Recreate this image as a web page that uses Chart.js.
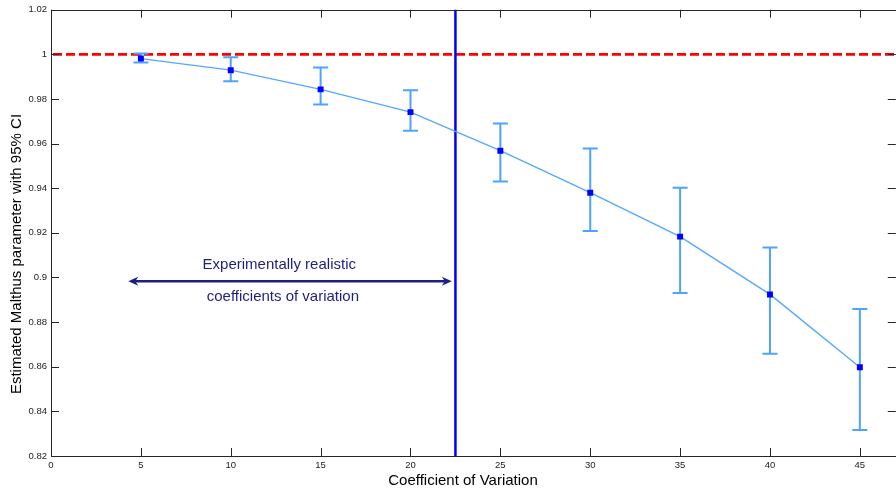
<!DOCTYPE html>
<html><head><meta charset="utf-8">
<script src="https://cdn.jsdelivr.net/npm/chart.js@4/dist/chart.umd.min.js"></script>
<style>
html,body{margin:0;padding:0;background:#fff;overflow:hidden;width:896px;height:492px}
#wrap{position:absolute;left:0;top:0;width:900px;height:492px}
</style></head>
<body><div id="wrap"><canvas id="c"></canvas></div>
<script>
// ---- data ----
const cvValues = [5, 10, 15, 20, 25, 30, 35, 40, 45];
const estimate = [0.9981, 0.9929, 0.9843, 0.9741, 0.9568, 0.9380, 0.9183, 0.8924, 0.8598];
const ciLow    = [0.9963, 0.9879, 0.9775, 0.9657, 0.9430, 0.9208, 0.8931, 0.8658, 0.8316];
const ciHigh   = [1.0004, 0.9987, 0.9941, 0.9839, 0.9690, 0.9578, 0.9402, 0.9134, 0.8859];
const xTicks = [0, 5, 10, 15, 20, 25, 30, 35, 40, 45];
const yTicks = [0.82, 0.84, 0.86, 0.88, 0.9, 0.92, 0.94, 0.96, 0.98, 1, 1.02];
const referenceLevel = [1];
const realisticLimit = [22.5];
const arrowSpan = [4.3, 22.3];
const arrowLevel = [0.8983];
const annotationLines = ["Experimentally realistic", "coefficients of variation"];
const xTitle = "Coefficient of Variation";
const yTitle = "Estimated Malthus parameter with 95% CI";

const FONT = "Arial, 'Liberation Sans', Helvetica, sans-serif";
const navy = '#1f1f80';

const overlay = {
  id: 'overlay',
  beforeDatasetsDraw(chart) {
    const {ctx, chartArea: a, scales: {x, y}} = chart;
    ctx.save();
    // red dashed reference line
    ctx.strokeStyle = '#ff0000'; ctx.lineWidth = 2.6; ctx.setLineDash([9, 4]);
    const yr = y.getPixelForValue(referenceLevel[0]);
    ctx.beginPath(); ctx.moveTo(a.left + 2, yr); ctx.lineTo(a.right, yr); ctx.stroke();
    ctx.setLineDash([]);
    // vertical limit
    const xv = x.getPixelForValue(realisticLimit[0]);
    ctx.strokeStyle = '#0000ff'; ctx.lineWidth = 2.5;
    ctx.beginPath(); ctx.moveTo(xv, a.top); ctx.lineTo(xv, a.bottom); ctx.stroke();
    // error bars
    ctx.strokeStyle = '#4da3ff'; ctx.lineWidth = 2;
    cvValues.forEach((v, i) => {
      const px = x.getPixelForValue(v);
      const lo = y.getPixelForValue(ciLow[i]);
      const hi = y.getPixelForValue(ciHigh[i]);
      ctx.beginPath();
      ctx.moveTo(px, lo); ctx.lineTo(px, hi);
      ctx.moveTo(px - 7.5, lo); ctx.lineTo(px + 7.5, lo);
      ctx.moveTo(px - 7.5, hi); ctx.lineTo(px + 7.5, hi);
      ctx.stroke();
    });
    // arrow
    const ax1 = x.getPixelForValue(arrowSpan[0]);
    const ax2 = x.getPixelForValue(arrowSpan[1]);
    const ay = y.getPixelForValue(arrowLevel[0]);
    ctx.strokeStyle = navy; ctx.fillStyle = navy; ctx.lineWidth = 2.5;
    ctx.beginPath(); ctx.moveTo(ax1 + 4, ay); ctx.lineTo(ax2 - 4, ay); ctx.stroke();
    const head = (tip, dir) => {
      ctx.beginPath();
      ctx.moveTo(tip, ay);
      ctx.lineTo(tip - dir * 10, ay - 4.5);
      ctx.lineTo(tip - dir * 7, ay);
      ctx.lineTo(tip - dir * 10, ay + 4.5);
      ctx.closePath(); ctx.fill();
    };
    head(ax1, -1); head(ax2, 1);
    // annotation text
    ctx.font = '15px ' + FONT; ctx.textAlign = 'center'; ctx.textBaseline = 'middle';
    ctx.fillText(annotationLines[0], x.getPixelForValue(12.7), y.getPixelForValue(0.9057));
    ctx.fillText(annotationLines[1], x.getPixelForValue(12.9), y.getPixelForValue(0.8914));
    ctx.restore();
  },
  afterDraw(chart) {
    const {ctx, chartArea: a, scales: {x, y}} = chart;
    ctx.save();
    ctx.strokeStyle = '#262626'; ctx.lineWidth = 1;
    ctx.strokeRect(Math.round(a.left) + 0.5, Math.round(a.top) + 0.5, Math.round(a.right - a.left), Math.round(a.bottom - a.top));
    const L = 8;
    ctx.beginPath();
    xTicks.forEach(v => {
      const px = Math.round(x.getPixelForValue(v)) + 0.5;
      ctx.moveTo(px, a.bottom); ctx.lineTo(px, a.bottom - L);
      ctx.moveTo(px, a.top); ctx.lineTo(px, a.top + L);
    });
    yTicks.forEach(v => {
      const py = Math.round(y.getPixelForValue(v)) + 0.5;
      ctx.moveTo(a.left, py); ctx.lineTo(a.left + L, py);
      ctx.moveTo(a.right, py); ctx.lineTo(a.right - L, py);
    });
    ctx.stroke();
    // axis titles
    ctx.fillStyle = '#000';
    ctx.font = '15px ' + FONT; ctx.textAlign = 'center'; ctx.textBaseline = 'middle';
    ctx.fillText(xTitle, 463, 481);
    ctx.translate(17, 254);
    ctx.rotate(-Math.PI / 2);
    ctx.fillText(yTitle, 0, 0);
    ctx.restore();
  }
};

new Chart(document.getElementById('c'), {
  type: 'line',
  data: {
    datasets: [{
      data: cvValues.map((v, i) => ({x: v, y: estimate[i]})),
      borderColor: '#55a8ff',
      borderWidth: 1.4,
      pointStyle: 'rect',
      pointRadius: 4.2,
      pointBackgroundColor: '#0000ff',
      pointBorderColor: '#0000ff',
      pointBorderWidth: 0,
      tension: 0
    }]
  },
  options: {
    responsive: true,
    maintainAspectRatio: false,
    animation: false,
    events: [],
    layout: {padding: {top: 9, right: 3, left: 0, bottom: 0}},
    plugins: {legend: {display: false}, tooltip: {enabled: false}},
    scales: {
      x: {
        type: 'linear', min: 0, max: 47,
        grid: {display: false, drawTicks: false},
        border: {display: false},
        afterBuildTicks: s => { s.ticks = xTicks.map(v => ({value: v})); },
        afterFit: s => { s.height = 36; },
        ticks: {padding: 4, color: '#222', font: {size: 9.5, family: FONT}, maxRotation: 0, autoSkip: false,
                callback: v => String(v)}
      },
      y: {
        type: 'linear', min: 0.82, max: 1.02,
        grid: {display: false, drawTicks: false},
        border: {display: false},
        afterBuildTicks: s => { s.ticks = yTicks.map(v => ({value: v})); },
        afterFit: s => { s.width = 51; },
        ticks: {padding: 4, color: '#222', font: {size: 9.5, family: FONT}, autoSkip: false,
                callback: v => String(Number(v.toFixed(2)))}
      }
    }
  },
  plugins: [overlay]
});
</script>
</body></html>
